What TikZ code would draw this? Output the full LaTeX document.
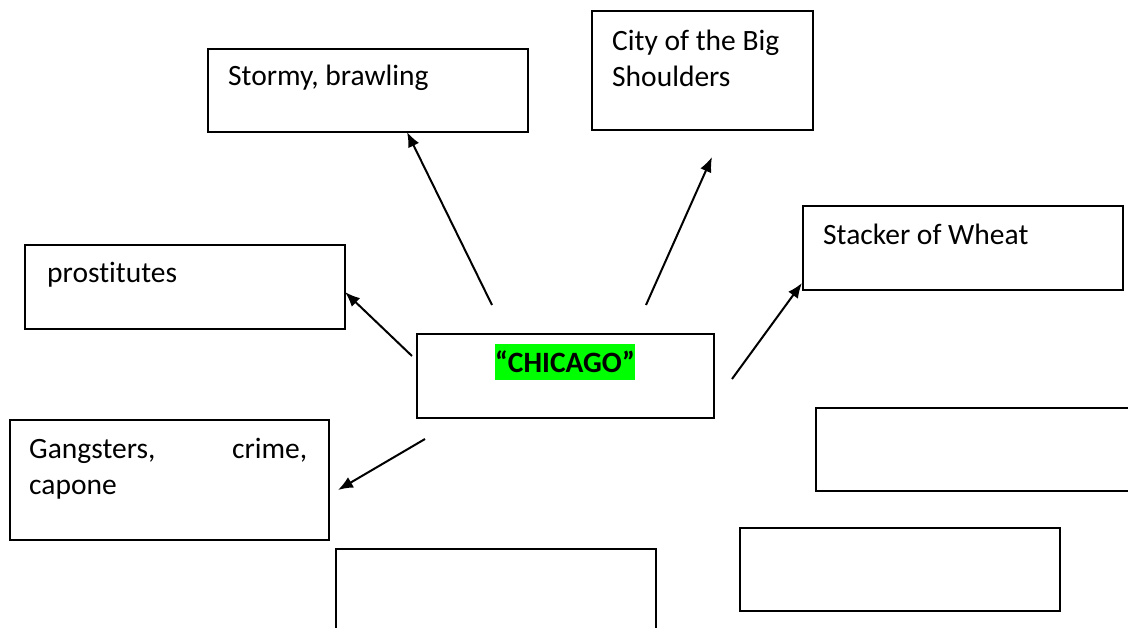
\documentclass[tikz,border=0pt]{standalone}
\usepackage{fontspec}
\setmainfont{Carlito}[Ligatures=NoCommon]
\usetikzlibrary{arrows.meta}
\definecolor{hlgreen}{RGB}{0,255,0}

\begin{document}
\begin{tikzpicture}[x=1pt,y=-1pt]

      \useasboundingbox (0,0) rectangle (1128,627);
      \clip (0,0) rectangle (1128,627);

      \begin{scope}[every node/.style={draw, line width=1.7pt, inner sep=0pt, anchor=north west,
          minimum width=320pt, minimum height=84pt}]
        \node (stormy)  at (207,48)  [minimum height=83pt] {};
        \node (city)    at (591,10)  [minimum width=221pt, minimum height=119pt] {};
        \node (stacker) at (802,205) {};
        \node (prost)   at (24,244)  {};
        \node (chicago) at (416,333) [minimum width=297pt] {};
        \node (gang)    at (9,419)   [minimum width=319pt, minimum height=120pt] {};
        \node (blankA)  at (815,407) [minimum height=83pt] {};
        \node (blankB)  at (739,527) [minimum height=83pt] {};
        \node (blankC)  at (335,548) {};
      \end{scope}

      \begin{scope}[every node/.style={anchor=base west, inner sep=0pt, font=\fontsize{29.5}{36}\selectfont}]
        \node (stormy-t)  at (228,85)  {Stormy, brawling};
        \node (city-t)    at (612,86)  [align=left] {City of the Big\\Shoulders};
        \node (stacker-t) at (823,244) {Stacker of Wheat};
        \node (prost-t)   at (47,282)  {prostitutes};
        \node (gang-t)    at (29,458)  [text width=278pt, align=left] {Gangsters,\hfill crime,\\capone};
        \node (chicago-t) at (565,372) [anchor=base, fill=hlgreen, text height=28pt, text depth=8pt,
          font=\fontsize{29.5}{36}\selectfont\bfseries] {“CHICAGO”};
      \end{scope}

      \coordinate (c1) at (492,305);  \coordinate (t1) at (407,132);
      \coordinate (c2) at (646,305);  \coordinate (t2) at (712,157);
      \coordinate (c3) at (732,379);  \coordinate (t3) at (802,283);
      \coordinate (c4) at (412,356);  \coordinate (t4) at (345,292);
      \coordinate (c5) at (425,439);  \coordinate (t5) at (338,490);

      \begin{scope}[every edge/.style={draw, line width=2pt, -{Latex[length=15pt,width=12pt]}}]
        \path (c1) edge (t1);
        \path (c2) edge (t2);
        \path (c3) edge (t3);
        \path (c4) edge (t4);
        \path (c5) edge (t5);
      \end{scope}

    \end{tikzpicture}
\end{document}
